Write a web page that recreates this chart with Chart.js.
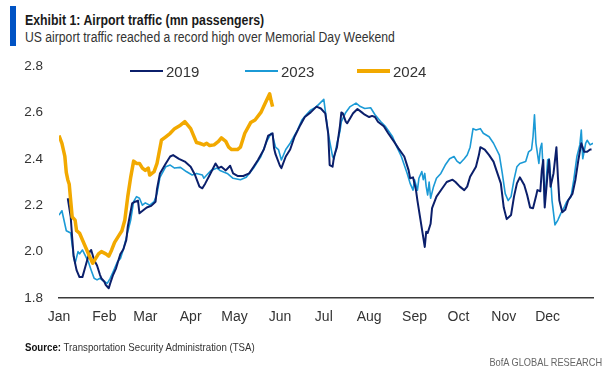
<!DOCTYPE html>
<html>
<head>
<meta charset="utf-8">
<script src="https://cdn.jsdelivr.net/npm/chart.js@4.4.1/dist/chart.umd.min.js"></script>
<style>
    body { margin: 0; width: 610px; height: 369px; background: #fff; position: relative; overflow: hidden;
           font-family: "Liberation Sans", Arial, sans-serif; }
    #chart { position: absolute; left: 0; top: 0; }
    .bar { position: absolute; left: 10px; top: 6px; width: 6px; height: 40px; background: #0053c4; }
    .title { position: absolute; left: 25px; top: 12px; font-size: 14px; font-weight: bold; color: #1a1a1a; line-height: 17px;
             white-space: nowrap; transform: scaleX(0.88); transform-origin: left center; }
    .subtitle { position: absolute; left: 25px; top: 29px; font-size: 14px; color: #333; line-height: 17px;
                white-space: nowrap; transform: scaleX(0.87); transform-origin: left center; }
    .source { position: absolute; left: 25px; top: 340px; font-size: 11px; color: #333; line-height: 14px;
              white-space: nowrap; transform: scaleX(0.88); transform-origin: left center; }
    .source b { color: #111; }
    .brand { position: absolute; right: 8px; top: 355px; font-size: 11px; color: #666; line-height: 14px;
             white-space: nowrap; transform: scaleX(0.84); transform-origin: right center; }
    .legend-item { position: absolute; top: 62px; height: 18px; display: flex; align-items: center; font-size: 15px; color: #333; }
    .legend-item span.line { display: inline-block; width: 33px; margin-right: 3px; }
</style>
</head>
<body>
<div class="bar"></div>
<div class="title">Exhibit 1: Airport traffic (mn passengers)</div>
<div class="subtitle">US airport traffic reached a record high over Memorial Day Weekend</div>
<canvas id="chart" width="610" height="369"></canvas>
<div id="legend"></div>
<div class="source"><b>Source:</b> Transportation Security Administration (TSA)</div>
<div class="brand">BofA GLOBAL RESEARCH</div>
<script>
// -------------------------------------------------------------------------
// Data (day of year -> million passengers, rolling daily traffic)
// -------------------------------------------------------------------------
const months = ['Jan', 'Feb', 'Mar', 'Apr', 'May', 'Jun', 'Jul', 'Aug', 'Sep', 'Oct', 'Nov', 'Dec'];
const monthStartDays = [0, 31, 59, 90, 120, 151, 181, 212, 243, 273, 304, 334];
const yTicks = [1.8, 2.0, 2.2, 2.4, 2.6, 2.8];

const days2019 = [6, 8, 9, 10, 12, 14, 16, 18, 19, 21, 22, 24, 26, 28, 29, 31, 32, 34, 35, 37, 39, 41, 42, 44, 46, 47, 50, 52, 54, 55, 58, 60, 63, 66, 67, 69, 73, 76, 78, 82, 86, 90, 93, 96, 98, 100, 103, 107, 109, 111, 114, 117, 119, 122, 126, 130, 133, 136, 140, 143, 146, 147, 148, 151, 152, 155, 158, 161, 165, 168, 172, 176, 179, 182, 184, 185, 187, 188, 190, 192, 193, 194, 196, 197, 199, 201, 204, 207, 209, 212, 214, 216, 218, 222, 225, 229, 232, 236, 239, 240, 242, 244, 245, 247, 249, 250, 251, 252, 254, 255, 258, 262, 265, 269, 271, 274, 277, 279, 281, 285, 287, 288, 291, 294, 297, 299, 302, 304, 306, 309, 311, 313, 315, 318, 320, 322, 324, 326, 327, 329, 330, 331, 332, 334, 335, 336, 338, 340, 341, 342, 344, 346, 348, 351, 353, 355, 357, 359, 361, 363, 364];
const pax2019 = [2.23, 2.15, 2.06, 1.98, 1.92, 1.89, 1.89, 1.935, 1.957, 2.0, 2.007, 1.964, 1.94, 1.90, 1.885, 1.87, 1.856, 1.842, 1.863, 1.90, 1.928, 1.97, 1.99, 2.01, 2.05, 2.107, 2.208, 2.215, 2.22, 2.165, 2.18, 2.19, 2.197, 2.215, 2.27, 2.337, 2.38, 2.41, 2.416, 2.40, 2.388, 2.366, 2.33, 2.28, 2.273, 2.294, 2.33, 2.38, 2.36, 2.366, 2.35, 2.37, 2.337, 2.326, 2.326, 2.337, 2.366, 2.395, 2.44, 2.50, 2.51, 2.445, 2.42, 2.37, 2.36, 2.41, 2.44, 2.495, 2.546, 2.58, 2.60, 2.625, 2.617, 2.596, 2.51, 2.373, 2.366, 2.41, 2.45, 2.54, 2.60, 2.596, 2.56, 2.553, 2.575, 2.596, 2.615, 2.60, 2.59, 2.58, 2.585, 2.58, 2.56, 2.54, 2.51, 2.474, 2.445, 2.41, 2.35, 2.316, 2.32, 2.265, 2.22, 2.14, 2.06, 2.02, 2.086, 2.08, 2.12, 2.187, 2.237, 2.273, 2.30, 2.31, 2.30, 2.28, 2.265, 2.28, 2.323, 2.366, 2.416, 2.45, 2.44, 2.416, 2.388, 2.35, 2.294, 2.19, 2.14, 2.158, 2.237, 2.294, 2.32, 2.287, 2.244, 2.19, 2.187, 2.237, 2.265, 2.26, 2.35, 2.395, 2.19, 2.337, 2.395, 2.28, 2.337, 2.45, 2.323, 2.22, 2.17, 2.18, 2.22, 2.25, 2.31, 2.395, 2.467, 2.43, 2.43, 2.44, 2.44];

const days2023 = [0, 2, 5, 8, 10, 11, 13, 14, 16, 19, 20, 22, 24, 26, 28, 30, 33, 35, 37, 40, 42, 44, 46, 49, 51, 53, 55, 57, 59, 62, 65, 67, 69, 73, 76, 79, 83, 87, 91, 94, 98, 99, 101, 104, 108, 110, 115, 119, 124, 128, 133, 138, 142, 145, 146, 148, 150, 152, 155, 158, 163, 166, 169, 172, 176, 181, 184, 187, 188, 190, 192, 193, 196, 199, 203, 206, 209, 213, 216, 220, 223, 228, 231, 234, 238, 240, 242, 243, 245, 246, 248, 249, 250, 251, 252, 253, 254, 256, 258, 261, 264, 267, 270, 272, 274, 277, 279, 281, 283, 285, 288, 290, 294, 297, 301, 303, 305, 307, 309, 311, 313, 315, 319, 321, 323, 324, 325, 326, 328, 329, 330, 331, 332, 334, 335, 336, 337, 339, 341, 343, 345, 347, 350, 352, 354, 356, 357, 358, 360, 361, 363, 365];
const pax2023 = [2.157, 2.176, 2.09, 2.08, 1.98, 1.95, 2.0, 1.99, 2.007, 1.97, 1.957, 1.92, 1.885, 1.878, 1.885, 1.875, 1.863, 1.885, 1.913, 1.957, 1.97, 2.01, 2.06, 2.136, 2.215, 2.237, 2.23, 2.2, 2.21, 2.2, 2.215, 2.25, 2.32, 2.366, 2.373, 2.36, 2.363, 2.345, 2.33, 2.337, 2.33, 2.316, 2.33, 2.35, 2.36, 2.35, 2.337, 2.316, 2.31, 2.32, 2.36, 2.41, 2.475, 2.51, 2.50, 2.45, 2.44, 2.395, 2.44, 2.467, 2.524, 2.567, 2.59, 2.61, 2.625, 2.656, 2.51, 2.41, 2.40, 2.467, 2.517, 2.56, 2.60, 2.625, 2.64, 2.625, 2.617, 2.62, 2.59, 2.56, 2.54, 2.495, 2.45, 2.41, 2.337, 2.294, 2.265, 2.31, 2.265, 2.316, 2.345, 2.31, 2.337, 2.28, 2.244, 2.30, 2.23, 2.28, 2.316, 2.337, 2.373, 2.40, 2.41, 2.39, 2.38, 2.40, 2.416, 2.45, 2.53, 2.524, 2.53, 2.51, 2.495, 2.467, 2.416, 2.337, 2.25, 2.22, 2.237, 2.31, 2.366, 2.38, 2.388, 2.43, 2.44, 2.495, 2.59, 2.467, 2.38, 2.445, 2.467, 2.337, 2.208, 2.395, 2.40, 2.323, 2.22, 2.115, 2.136, 2.165, 2.187, 2.215, 2.237, 2.316, 2.41, 2.46, 2.524, 2.40, 2.467, 2.48, 2.46, 2.467];

const days2024 = [0, 2, 4, 5, 6, 7, 8, 9, 11, 12, 14, 17, 19, 21, 23, 25, 27, 29, 32, 34, 36, 38, 41, 43, 45, 47, 49, 51, 53, 55, 57, 59, 61, 62, 65, 67, 70, 73, 76, 79, 83, 86, 88, 90, 92, 94, 96, 99, 101, 103, 106, 109, 111, 114, 116, 118, 122, 124, 127, 131, 134, 138, 141, 144, 145, 146];
const pax2024 = [2.50, 2.467, 2.41, 2.34, 2.31, 2.29, 2.22, 2.15, 2.136, 2.09, 2.08, 2.036, 2.007, 1.978, 1.95, 1.97, 1.99, 2.0, 1.99, 1.98, 2.007, 2.04, 2.07, 2.09, 2.136, 2.237, 2.32, 2.39, 2.38, 2.38, 2.36, 2.35, 2.36, 2.33, 2.345, 2.38, 2.48, 2.495, 2.51, 2.53, 2.545, 2.56, 2.545, 2.53, 2.50, 2.47, 2.467, 2.46, 2.467, 2.457, 2.46, 2.475, 2.49, 2.475, 2.45, 2.44, 2.44, 2.45, 2.51, 2.556, 2.567, 2.60, 2.64, 2.68, 2.65, 2.625];

const toPoints = (days, vals) => days.map((d, i) => ({ x: d, y: vals[i] }));

// -------------------------------------------------------------------------
// Chart
// -------------------------------------------------------------------------
const tickFont = { family: '"Liberation Sans", Arial, sans-serif' };

const chart = new Chart(document.getElementById('chart'), {
    type: 'line',
    data: {
        datasets: [
            { label: '2019', data: toPoints(days2019, pax2019), borderColor: '#0b1f6b', borderWidth: 2, order: 1 },
            { label: '2023', data: toPoints(days2023, pax2023), borderColor: '#1b9ad6', borderWidth: 1.6, order: 2 },
            { label: '2024', data: toPoints(days2024, pax2024), borderColor: '#f2a900', borderWidth: 3.5, order: 0 }
        ]
    },
    options: {
        responsive: false,
        animation: false,
        devicePixelRatio: 1,
        elements: { point: { radius: 0 }, line: { tension: 0, borderJoinStyle: 'round' } },
        layout: { padding: { top: 66, right: 17, bottom: 0, left: 0 } },
        plugins: { legend: { display: false }, tooltip: { enabled: false } },
        scales: {
            x: {
                type: 'linear',
                min: 0,
                max: 365,
                grid: { display: false, drawTicks: false },
                border: { display: true, color: '#3a3a3a', width: 1.5 },
                afterBuildTicks: (scale) => { scale.ticks = monthStartDays.map(v => ({ value: v })); },
                afterFit: (scale) => { scale.height = 71; },
                ticks: {
                    padding: 11,
                    maxRotation: 0,
                    autoSkip: false,
                    color: '#333',
                    font: { ...tickFont, size: 14 },
                    callback: (v) => months[monthStartDays.indexOf(v)]
                }
            },
            y: {
                min: 1.8,
                max: 2.8,
                grid: { display: false, drawTicks: false },
                border: { display: false },
                afterBuildTicks: (scale) => { scale.ticks = yTicks.map(v => ({ value: v })); },
                afterFit: (scale) => { scale.width = 59; },
                ticks: {
                    padding: 16,
                    color: '#333',
                    font: { ...tickFont, size: 13.5 },
                    callback: (v) => v.toFixed(1)
                }
            }
        }
    }
});

// -------------------------------------------------------------------------
// Legend (built from the datasets)
// -------------------------------------------------------------------------
const legendLeft = [130, 245, 357];
const legendEl = document.getElementById('legend');
chart.data.datasets.forEach((ds, i) => {
    const item = document.createElement('div');
    item.className = 'legend-item';
    item.style.left = legendLeft[i] + 'px';
    const line = document.createElement('span');
    line.className = 'line';
    line.style.height = Math.max(2, Math.round(ds.borderWidth)) + 'px';
    line.style.background = ds.borderColor;
    item.appendChild(line);
    item.appendChild(document.createTextNode(ds.label));
    legendEl.appendChild(item);
});
</script>
</body>
</html>
